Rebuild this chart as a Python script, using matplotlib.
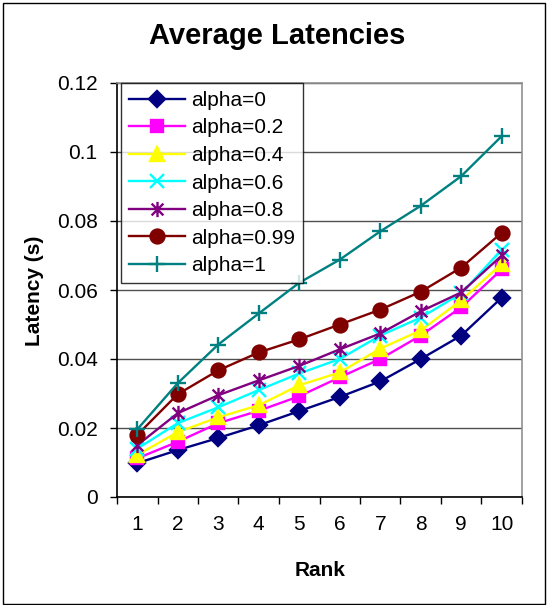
import matplotlib
matplotlib.use("Agg")
import matplotlib.pyplot as plt
from matplotlib.path import Path
from matplotlib.patches import Rectangle

plt.rcParams["font.family"] = ["Liberation Sans", "DejaVu Sans"]

ranks = [1, 2, 3, 4, 5, 6, 7, 8, 9, 10]
alpha_0 = [0.0098, 0.0136, 0.0171, 0.0208, 0.0249, 0.0290, 0.0335, 0.0400, 0.0468, 0.0578]
alpha_02 = [0.0112, 0.0160, 0.0214, 0.0250, 0.0292, 0.0347, 0.0400, 0.0468, 0.0550, 0.0660]
alpha_04 = [0.0122, 0.0188, 0.0231, 0.0266, 0.0324, 0.0361, 0.0430, 0.0483, 0.0570, 0.0676]
alpha_06 = [0.0140, 0.0214, 0.0260, 0.0310, 0.0358, 0.0400, 0.0468, 0.0520, 0.0590, 0.0717]
alpha_08 = [0.0150, 0.0243, 0.0295, 0.0338, 0.0380, 0.0428, 0.0474, 0.0538, 0.0593, 0.0700]
alpha_099 = [0.0180, 0.0298, 0.0367, 0.0419, 0.0457, 0.0500, 0.0543, 0.0595, 0.0665, 0.0766]
alpha_1 = [0.0196, 0.0330, 0.0442, 0.0532, 0.0621, 0.0688, 0.0770, 0.0844, 0.0930, 0.1046]
labels = ["alpha=0", "alpha=0.2", "alpha=0.4", "alpha=0.6", "alpha=0.8", "alpha=0.99", "alpha=1"]
y_ticks = [0, 0.02, 0.04, 0.06, 0.08, 0.1, 0.12]
y_tick_labels = ["0", "0.02", "0.04", "0.06", "0.08", "0.1", "0.12"]

# asterisk-style star: an X with a vertical bar through it
star = Path([(-1, -1), (1, 1), (-1, 1), (1, -1), (0, -1.3), (0, 1.3)],
            [Path.MOVETO, Path.LINETO, Path.MOVETO, Path.LINETO, Path.MOVETO, Path.LINETO])

series = [
    (alpha_0, "#000080", "D", 8),
    (alpha_02, "#FF00FF", "s", 9),
    (alpha_04, "#FFFF00", "^", 10),
    (alpha_06, "#00FFFF", "x", 10),
    (alpha_08, "#800080", star, 11),
    (alpha_099, "#800000", "o", 10),
    (alpha_1, "#008080", "+", 12),
]

fig = plt.figure(figsize=(5.48, 6.05), dpi=100)
ax = fig.add_axes([117 / 548, 108 / 605, 405 / 548, 414 / 605])

for (vals, color, marker, ms), label in zip(series, labels):
    ax.plot(ranks, vals, color=color, lw=1.7, marker=marker, markersize=ms,
            markerfacecolor=color, markeredgecolor=color, markeredgewidth=1.7,
            label=label, zorder=3)

ax.set_xlim(0.5, 10.5)
ax.set_ylim(0, 0.12)
ax.set_yticks(y_ticks)
ax.set_yticklabels(y_tick_labels, fontsize=15)
ax.set_xticks([r - 0.5 for r in ranks] + [10.5])
ax.set_xticklabels([])
ax.set_xticks(ranks, minor=True)
ax.set_xticklabels([str(r) for r in ranks], minor=True, fontsize=15)
ax.tick_params(axis="x", which="major", direction="out", length=5, width=1)
ax.tick_params(axis="x", which="minor", length=0, pad=13)
ax.tick_params(axis="y", direction="out", length=5, width=1, pad=9)

ax.yaxis.grid(True, color="#505050", lw=1)
ax.set_axisbelow(True)
ax.spines["left"].set_color("black")
ax.spines["bottom"].set_color("black")
ax.spines["right"].set_color("#909090")
ax.spines["top"].set_color("#909090")
for s in ax.spines.values():
    s.set_linewidth(1.2)

fig.text(277 / 548, 1 - 36 / 605, "Average Latencies", fontsize=21,
         fontweight="bold", ha="center", va="center")
fig.text(320 / 548, 1 - 571 / 605, "Rank", fontsize=15,
         fontweight="bold", ha="center", va="center")
fig.text(34 / 548, 1 - 291 / 605, "Latency (s)", fontsize=15,
         fontweight="bold", ha="center", va="center", rotation=90)

leg = ax.legend(loc="upper left", bbox_to_anchor=(0.01, 1.0), fontsize=15,
                frameon=True, fancybox=False, edgecolor="black",
                borderpad=0.38, labelspacing=0.41, handlelength=2.7,
                handletextpad=0.3, borderaxespad=0)
leg.get_frame().set_linewidth(1)
leg.set_zorder(5)

# chart border
fig.patches.append(Rectangle((3 / 548, 1 / 605), 542 / 548, 601 / 605,
                             transform=fig.transFigure, fill=False,
                             edgecolor="black", lw=1))

fig.savefig("out.png", dpi=100)
